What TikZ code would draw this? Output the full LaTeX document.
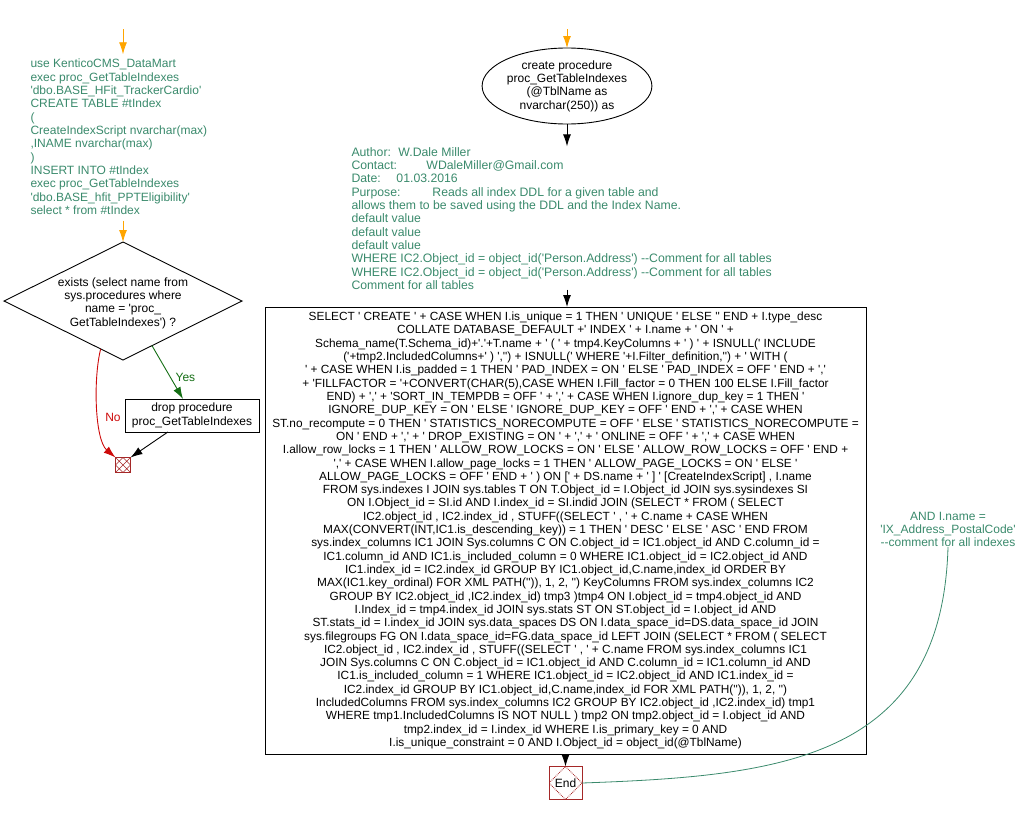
\documentclass[tikz,border=0pt]{standalone}
\usepackage{fontspec}
\usetikzlibrary{shapes.geometric,arrows.meta,calc}
\newfontfamily\diafont{Liberation Sans}
\definecolor{notegreen}{RGB}{58,138,108}
\definecolor{flowcol}{RGB}{255,165,0}
\definecolor{endred}{RGB}{165,40,40}
\definecolor{nored}{RGB}{205,10,10}
\definecolor{yesgreen}{RGB}{20,110,20}
\begin{document}
\begin{tikzpicture}[x=1pt,y=-1pt,
  every node/.style={font=\diafont\fontsize{12}{13.33}\selectfont, inner sep=0pt, outer sep=0pt},
  line/.style={line width=0.9pt},
  tip/.style={line, -{Latex[length=12pt,width=8pt]}},
  note/.style={text=notegreen, align=left},
  cnote/.style={text=notegreen, align=center},
  stepbox/.style={draw, line width=0.9pt, align=center},
  endbox/.style={draw=endred, line width=0.9pt, path picture={
      \draw[endred, densely dotted, line width=0.8pt]
        (path picture bounding box.north) -- (path picture bounding box.east) --
        (path picture bounding box.south) -- (path picture bounding box.west) -- cycle;}},
  crossbox/.style={draw=endred, line width=0.9pt, minimum size=15pt, path picture={
      \draw[endred, line width=0.6pt]
        (path picture bounding box.north west) -- (path picture bounding box.south east)
        (path picture bounding box.north east) -- (path picture bounding box.south west)
        (path picture bounding box.north) -- (path picture bounding box.east) --
        (path picture bounding box.south) -- (path picture bounding box.west) -- cycle;}}]
\useasboundingbox (0,0) rectangle (1022,814);

% ---- left column: test script and drop check ----
\coordinate (ls) at (123,29);
\node[note, anchor=west] (lt) at (30.5,137) {use KenticoCMS\_DataMart\\exec proc\_GetTableIndexes\\'dbo.BASE\_HFit\_TrackerCardio'\\CREATE TABLE \#tIndex\\(\\CreateIndexScript nvarchar(max)\\,INAME nvarchar(max)\\)\\INSERT INTO \#tIndex\\exec proc\_GetTableIndexes\\'dbo.BASE\_hfit\_PPTEligibility'\\select * from \#tIndex};

\node[diamond, draw, line width=0.9pt, minimum width=238pt, minimum height=118pt] (q) at (123,301) {};
\node[align=center] (qt) at (123,303) {exists (select name from\\sys.procedures where\\name = 'proc\_\\GetTableIndexes') ?};

\node[stepbox, minimum width=134pt, minimum height=33pt] (drop) at (192,415.5) {drop procedure\\proc\_GetTableIndexes};
\node[crossbox] (x1) at (123,465) {};

\draw[tip, flowcol, shorten >=5pt] (ls) -- (ls |- lt.north);
\draw[tip, flowcol, shorten <=6pt] (ls |- lt.south) -- (q.north);
\draw[tip, yesgreen] (q.-57) -- ($(drop.north west)!0.433!(drop.north east)$)
  node[pos=0.6, right=5pt, text=yesgreen] (yes) {Yes};
\draw[tip, nored] (q.-115) .. controls (93,380) and (95,440) .. (x1.north west);
\node[text=nored] (no) at (113,417) {No};
\draw[tip] ($(drop.south west)!0.32!(drop.south east)$) -- (x1.north east);

% ---- right column: the procedure ----
\coordinate (rs) at (567,29);
\node[ellipse, draw, line width=0.9pt, minimum width=152pt, minimum height=76pt, align=center] (e) at (567,86) {create procedure\\proc\_GetTableIndexes\\(@TblName as\\nvarchar(250)) as};

\node[note, anchor=west, font=\diafont\fontsize{12.25}{13.33}\selectfont] (c) at (351.5,218.5) {\makebox[47pt][l]{Author:}W.Dale Miller\\
\makebox[75pt][l]{Contact:}WDaleMiller@Gmail.com\\
\makebox[45pt][l]{Date:}01.03.2016\\
\makebox[81pt][l]{Purpose:}Reads all index DDL for a given table and\\
allows them to be saved using the DDL and the Index Name.\\
default value\\
default value\\
default value\\
WHERE IC2.Object\_id = object\_id('Person.Address') --Comment for all tables\\
WHERE IC2.Object\_id = object\_id('Person.Address') --Comment for all tables\\
Comment for all tables};

\node[stepbox, minimum width=601pt, minimum height=447pt, font=\diafont\fontsize{11.85}{13.31}\selectfont] (b) at (565.5,530.5) {SELECT ' CREATE ' + CASE WHEN I.is\_unique = 1 THEN ' UNIQUE ' ELSE '' END  + I.type\_desc\\
COLLATE DATABASE\_DEFAULT +' INDEX ' + I.name  + ' ON ' +\\
Schema\_name(T.Schema\_id)+'.'+T.name + ' ( ' + tmp4.KeyColumns + ' )  ' + ISNULL(' INCLUDE\\
('+tmp2.IncludedColumns+' ) ','') + ISNULL(' WHERE  '+I.Filter\_definition,'') + ' WITH (\\
' + CASE WHEN I.is\_padded = 1 THEN ' PAD\_INDEX = ON ' ELSE ' PAD\_INDEX = OFF ' END + ','\\
+ 'FILLFACTOR = '+CONVERT(CHAR(5),CASE WHEN I.Fill\_factor = 0 THEN 100 ELSE I.Fill\_factor\\
END) + ','  + 'SORT\_IN\_TEMPDB = OFF '  + ','  + CASE WHEN I.ignore\_dup\_key = 1 THEN '\\
IGNORE\_DUP\_KEY = ON ' ELSE ' IGNORE\_DUP\_KEY = OFF ' END + ','  + CASE WHEN\\
ST.no\_recompute = 0 THEN ' STATISTICS\_NORECOMPUTE = OFF ' ELSE ' STATISTICS\_NORECOMPUTE =\\
ON ' END + ','  + ' DROP\_EXISTING = ON '  + ','  + ' ONLINE = OFF '  + ','  + CASE WHEN\\
I.allow\_row\_locks = 1 THEN ' ALLOW\_ROW\_LOCKS = ON ' ELSE ' ALLOW\_ROW\_LOCKS = OFF ' END +\\
','  + CASE WHEN I.allow\_page\_locks = 1 THEN ' ALLOW\_PAGE\_LOCKS = ON ' ELSE '\\
ALLOW\_PAGE\_LOCKS = OFF ' END  + ' ) ON [' + DS.name + ' ] '  [CreateIndexScript] , I.name\\
FROM sys.indexes I JOIN sys.tables T ON T.Object\_id = I.Object\_id JOIN sys.sysindexes SI\\
ON I.Object\_id = SI.id AND I.index\_id = SI.indid JOIN (SELECT * FROM ( SELECT\\
IC2.object\_id , IC2.index\_id , STUFF((SELECT ' , ' + C.name + CASE WHEN\\
MAX(CONVERT(INT,IC1.is\_descending\_key)) = 1 THEN ' DESC ' ELSE ' ASC ' END FROM\\
sys.index\_columns IC1 JOIN Sys.columns C ON C.object\_id = IC1.object\_id AND C.column\_id =\\
IC1.column\_id AND IC1.is\_included\_column = 0 WHERE IC1.object\_id = IC2.object\_id AND\\
IC1.index\_id = IC2.index\_id GROUP BY IC1.object\_id,C.name,index\_id ORDER BY\\
MAX(IC1.key\_ordinal) FOR XML PATH('')), 1, 2, '') KeyColumns FROM sys.index\_columns IC2\\
GROUP BY IC2.object\_id ,IC2.index\_id) tmp3 )tmp4 ON I.object\_id = tmp4.object\_id AND\\
I.Index\_id = tmp4.index\_id JOIN sys.stats ST ON ST.object\_id = I.object\_id AND\\
ST.stats\_id = I.index\_id JOIN sys.data\_spaces DS ON I.data\_space\_id=DS.data\_space\_id JOIN\\
sys.filegroups FG ON I.data\_space\_id=FG.data\_space\_id LEFT JOIN (SELECT * FROM ( SELECT\\
IC2.object\_id , IC2.index\_id , STUFF((SELECT ' , ' + C.name FROM sys.index\_columns IC1\\
JOIN Sys.columns C ON C.object\_id = IC1.object\_id AND C.column\_id = IC1.column\_id AND\\
IC1.is\_included\_column = 1 WHERE IC1.object\_id = IC2.object\_id AND IC1.index\_id =\\
IC2.index\_id GROUP BY IC1.object\_id,C.name,index\_id FOR XML PATH('')), 1, 2, '')\\
IncludedColumns FROM sys.index\_columns IC2 GROUP BY IC2.object\_id ,IC2.index\_id) tmp1\\
WHERE tmp1.IncludedColumns IS NOT NULL ) tmp2 ON tmp2.object\_id = I.object\_id AND\\
tmp2.index\_id = I.index\_id WHERE I.is\_primary\_key = 0 AND\\
I.is\_unique\_constraint = 0 AND I.Object\_id = object\_id(@TblName)};

\node[endbox, minimum size=33pt] (end) at (565.5,783) {End};
\node[cnote] (rc) at (948,529.5) {AND I.name =\\'IX\_Address\_PostalCode'\\--comment for all indexes};

\draw[tip, flowcol] (rs) -- (e.north);
\draw[tip, shorten >=1pt] (e.south) -- (e.south |- c.north);
\draw[tip] (e.south |- c.south) -- (b.north -| e.south);
\draw[tip] (b.south -| end.north) -- (end.north);
\draw[line width=0.8pt, notegreen] (rc.south) .. controls (942,760) and (780,776) .. (end.east);
\end{tikzpicture}
\end{document}
